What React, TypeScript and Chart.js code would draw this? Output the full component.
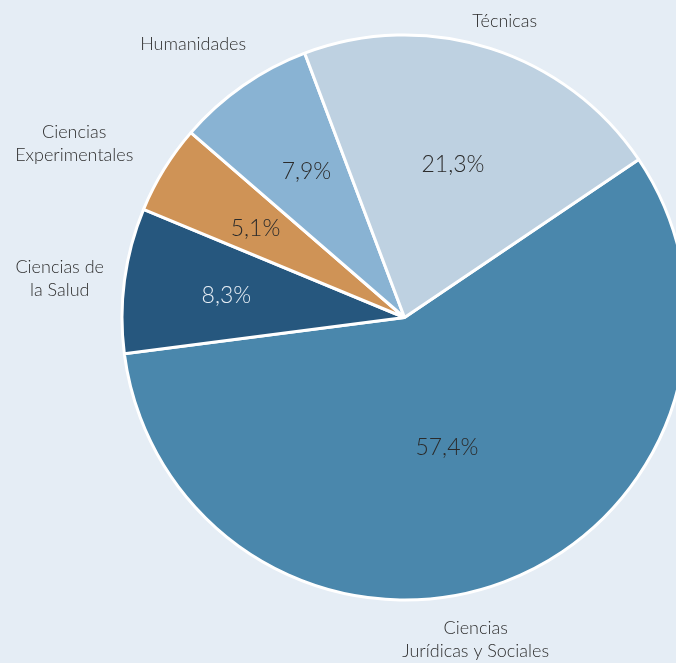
import React, { useEffect, useRef } from "react";
import { Chart, registerables } from "chart.js";

Chart.register(...registerables);

const categories: string[][] = [
  ["Ciencias", "Jurídicas y Sociales"],
  ["Ciencias de", "la Salud"],
  ["Ciencias", "Experimentales"],
  ["Humanidades"],
  ["Técnicas"],
];
const values: number[] = [57.4, 8.3, 5.1, 7.9, 21.3];
const valueLabels: string[] = ["57,4%", "8,3%", "5,1%", "7,9%", "21,3%"];

const colors = ["#4a87ac", "#26577e", "#cf9356", "#89b3d3", "#bed1e1"];
const valueColors = ["#2b2b2b", "#e6edf4", "#2b2b2b", "#2b2b2b", "#2b2b2b"];
// label placement styling: inner [angle offset deg, radius fraction], outer [angle offset deg, radius factor]
const innerPlace: [number, number][] = [
  [1.5, 0.5],
  [0.8, 0.63],
  [0.5, 0.615],
  [3, 0.63],
  [0.5, 0.585],
];
const innerNudge: [number, number][] = [
  [-4, -3],
  [-2, 4],
  [-2, 4],
  [-4, 5],
  [-3, 4],
];
const outerPlace: [number, number][] = [
  [7.6, 1.16],
  [-0.2, 1.22],
  [-2.5, 1.315],
  [-1.5, 1.225],
  [1.2, 1.12],
];
const outerNudge: [number, number][] = [
  [-3, 3],
  [-3, 5],
  [-6, 7],
  [-6, 5],
  [-2, 3],
];

const BG = "#e5edf5";

const labelPlugin = {
  id: "pieLabels",
  afterDatasetsDraw(chart: any) {
    const ctx = chart.ctx;
    const meta = chart.getDatasetMeta(0);
    ctx.save();
    ctx.textAlign = "center";
    ctx.textBaseline = "middle";
    meta.data.forEach((arc: any, i: number) => {
      const { x, y, startAngle, endAngle, outerRadius } = arc.getProps(
        ["x", "y", "startAngle", "endAngle", "outerRadius"],
        true
      );
      const mid = (startAngle + endAngle) / 2;
      const a1 = mid + (innerPlace[i][0] * Math.PI) / 180;
      const r1 = outerRadius * innerPlace[i][1];
      ctx.font = "300 23px Lato, 'Open Sans', sans-serif";
      ctx.fillStyle = valueColors[i];
      ctx.fillText(
        valueLabels[i],
        x + Math.cos(a1) * r1 + innerNudge[i][0],
        y + Math.sin(a1) * r1 + innerNudge[i][1]
      );

      const a = mid + (outerPlace[i][0] * Math.PI) / 180;
      const r2 = outerRadius * outerPlace[i][1];
      const lx = x + Math.cos(a) * r2 + outerNudge[i][0];
      const ly = y + Math.sin(a) * r2 + outerNudge[i][1];
      const lines = categories[i];
      const lh = 23;
      ctx.font = "300 18px Lato, 'Open Sans', sans-serif";
      ctx.fillStyle = "#2e2e2e";
      lines.forEach((t, j) => {
        ctx.fillText(t, lx, ly + (j - (lines.length - 1) / 2) * lh);
      });
    });
    ctx.restore();
  },
};

export default function App() {
  const ref = useRef<HTMLCanvasElement | null>(null);
  useEffect(() => {
    document.body.style.margin = "0";
    document.body.style.overflow = "hidden";
    const chart = new Chart(ref.current!, {
      type: "pie",
      data: {
        labels: categories.map((c) => c.join(" ")),
        datasets: [
          {
            data: values,
            backgroundColor: colors,
            borderColor: "#ffffff",
            borderWidth: 3,
          },
        ],
      },
      options: {
        responsive: false,
        animation: false,
        rotation: 56,
        layout: { padding: { left: 120.5, right: 31.5, top: 33.5, bottom: 61.5 } },
        plugins: {
          legend: { display: false },
          tooltip: { enabled: false },
        },
      },
      plugins: [labelPlugin],
    });
    return () => chart.destroy();
  }, []);
  return (
    <div style={{ width: 676, height: 663, overflow: "hidden", background: BG }}>
      <canvas ref={ref} width={720} height={663} style={{ display: "block" }} />
    </div>
  );
}
